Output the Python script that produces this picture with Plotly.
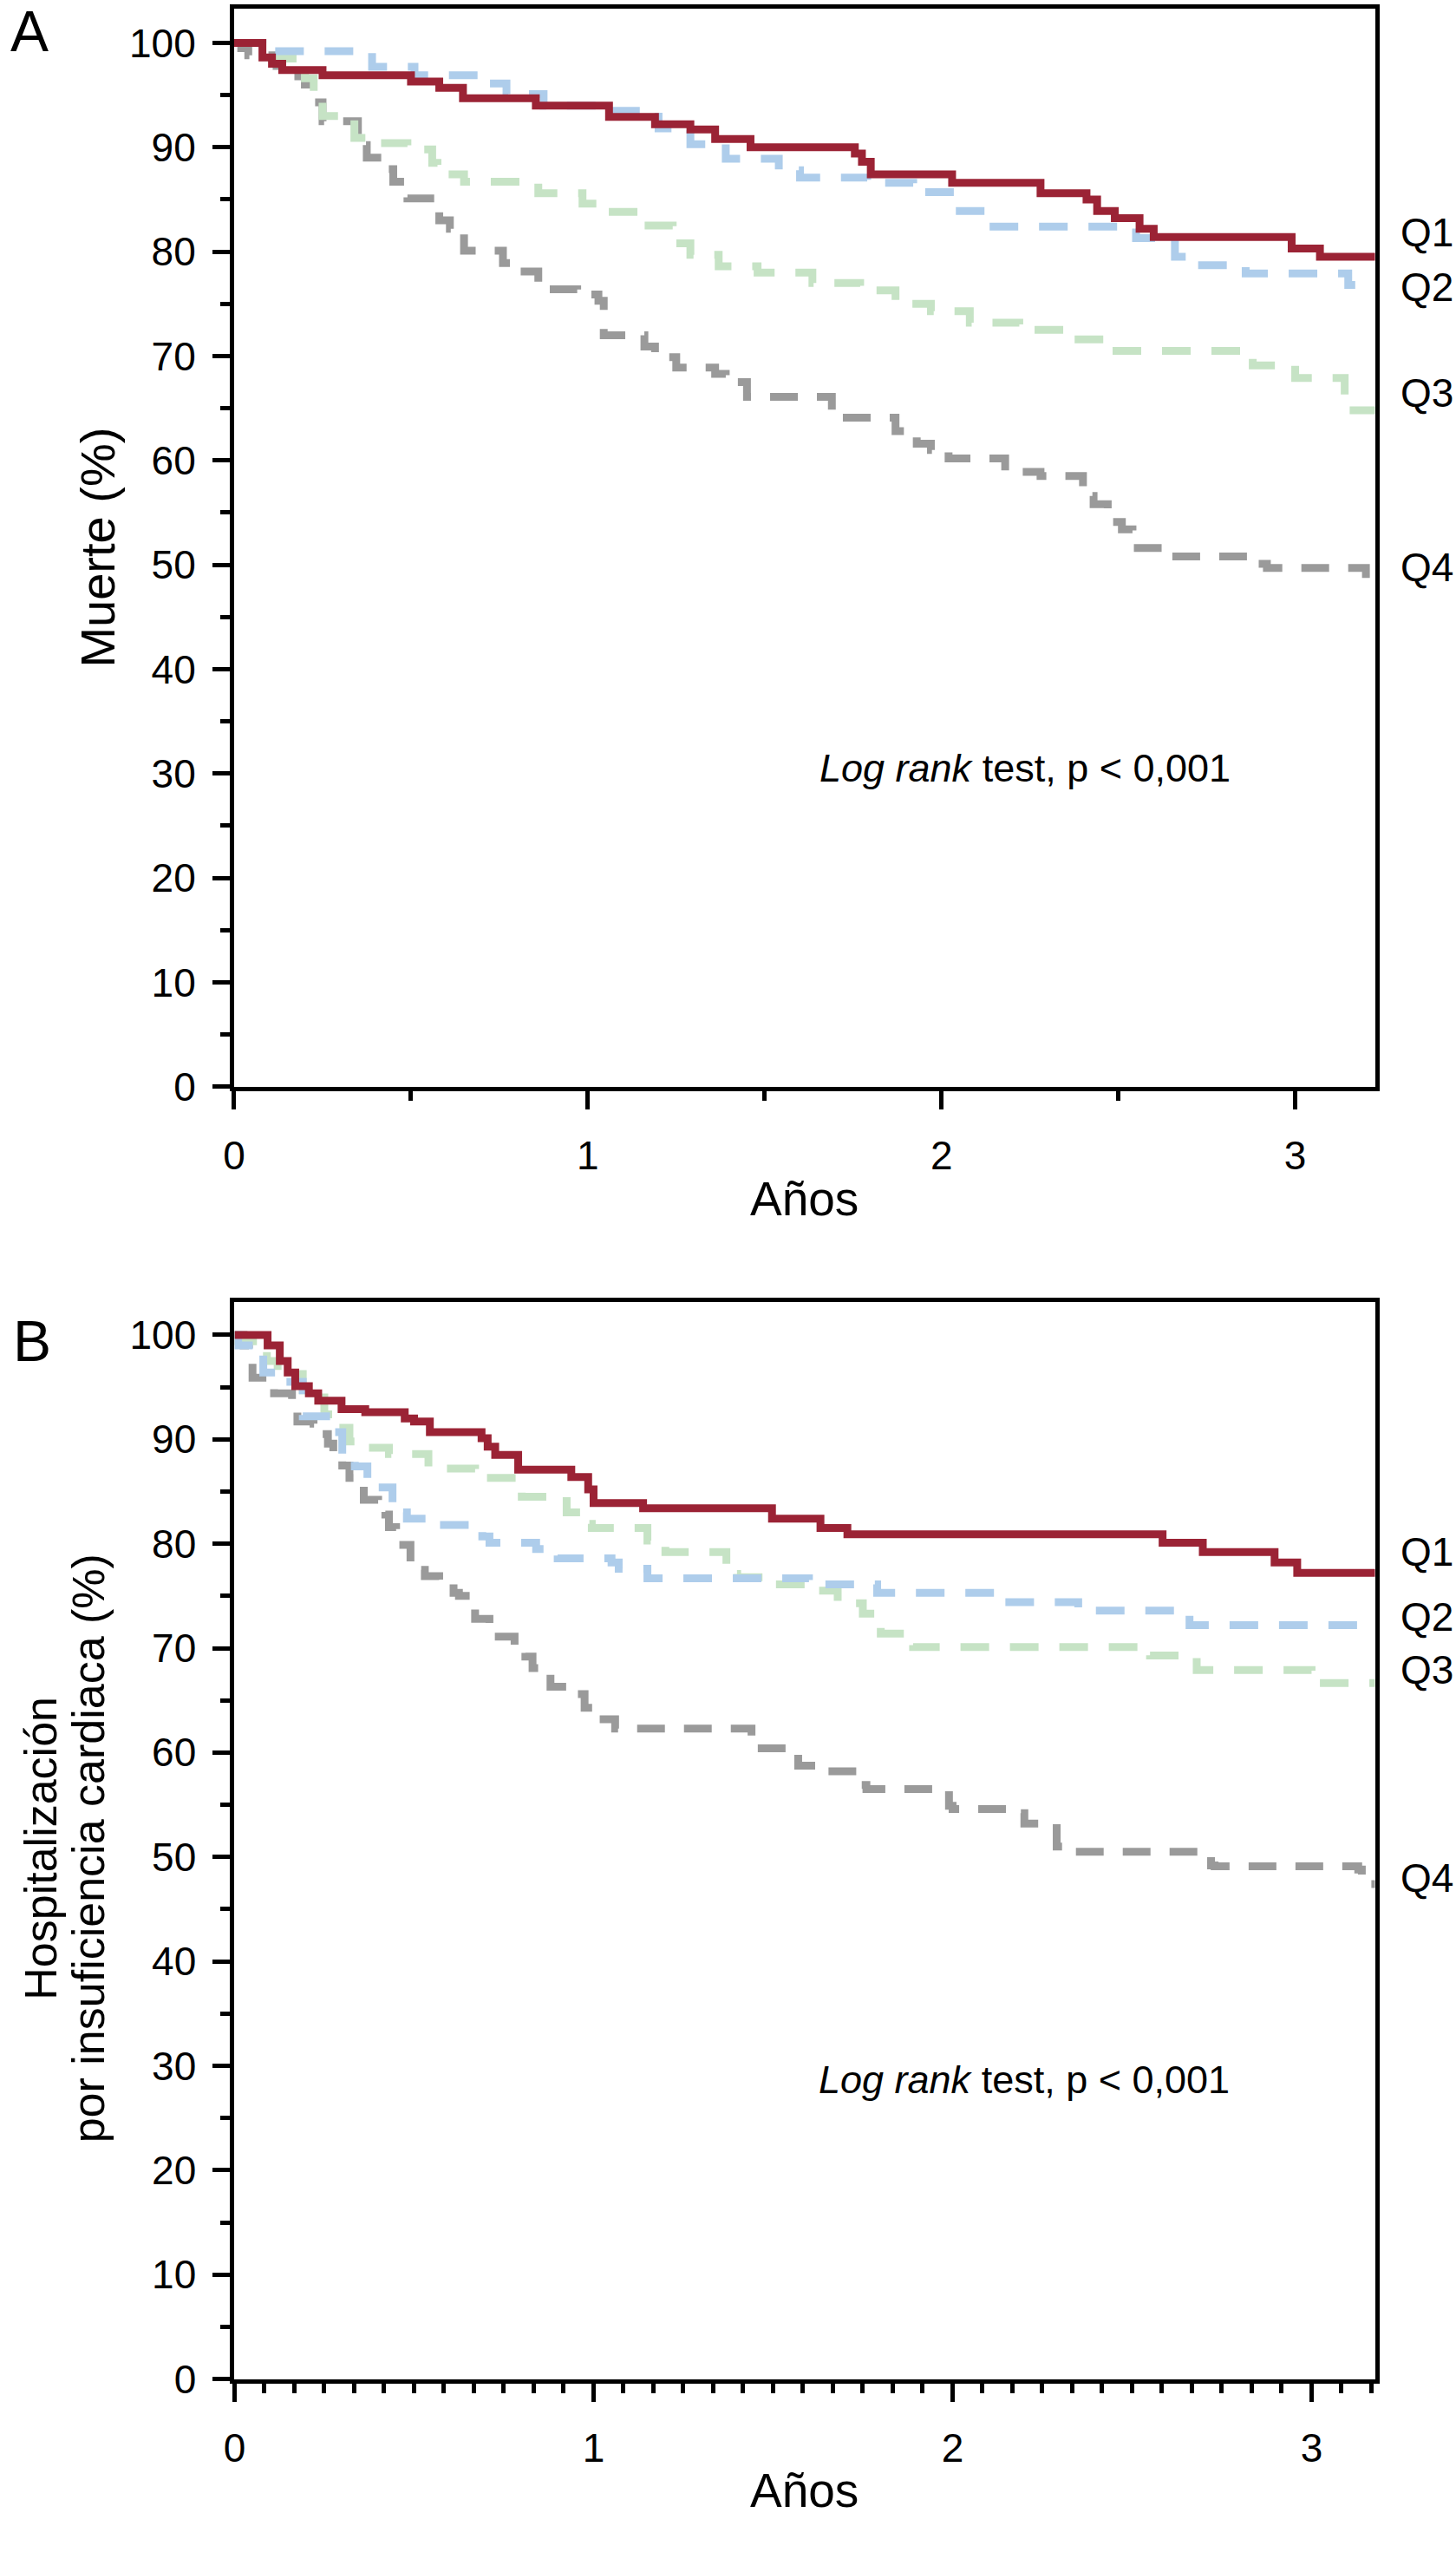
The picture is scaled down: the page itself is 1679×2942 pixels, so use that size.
import plotly.graph_objects as go

# ---- Panel A: Muerte ----
a_q1_t = [0, 0.08, 0.107, 0.136, 0.25, 0.50, 0.58, 0.647, 0.853, 1.06, 1.19, 1.29, 1.36, 1.46,
          1.755, 1.775, 1.80, 2.03, 2.28, 2.41, 2.44, 2.49, 2.56, 2.60, 2.99, 3.07, 3.226]
a_q1_s = [100, 98.6, 98.0, 97.4, 96.9, 96.3, 95.7, 94.7, 94.0, 92.9, 92.2, 91.7, 90.8, 90.0,
          89.4, 88.6, 87.4, 86.6, 85.6, 85.0, 83.9, 83.2, 82.2, 81.4, 80.3, 79.5, 79.5]

a_q2_t = [0, 0.08, 0.39, 0.51, 0.70, 0.77, 0.875, 1.065, 1.20, 1.29, 1.39, 1.54, 1.60, 1.79,
          1.92, 2.04, 2.13, 2.55, 2.66, 2.72, 2.86, 3.15, 3.226]
a_q2_s = [100, 99.2, 97.7, 96.9, 96.1, 95.1, 94.0, 93.5, 91.8, 90.3, 88.9, 87.8, 87.1, 86.6,
          85.7, 83.9, 82.4, 81.3, 79.5, 78.7, 77.9, 76.8, 76.8]

a_q3_t = [0, 0.09, 0.20, 0.225, 0.25, 0.34, 0.36, 0.49, 0.56, 0.575, 0.65, 0.86, 0.985, 1.05,
          1.15, 1.24, 1.29, 1.37, 1.48, 1.635, 1.77, 1.87, 1.97, 2.08, 2.22, 2.35, 2.47, 2.88,
          3.0, 3.14, 3.226]
a_q3_s = [100, 98.5, 96.6, 95.1, 93.0, 90.9, 90.4, 89.8, 88.5, 87.4, 86.7, 85.6, 84.6, 83.8,
          82.5, 80.8, 79.7, 78.6, 78.0, 77.0, 76.3, 75.0, 74.3, 73.2, 72.5, 71.6, 70.5, 69.1,
          67.9, 64.8, 64.8]

a_q4_t = [0, 0.02, 0.04, 0.12, 0.135, 0.20, 0.22, 0.25, 0.35, 0.375, 0.42, 0.45, 0.49, 0.58,
          0.61, 0.65, 0.76, 0.79, 0.86, 0.89, 0.97, 1.03, 1.045, 1.16, 1.19, 1.25, 1.36, 1.39,
          1.45, 1.69, 1.87, 1.93, 1.97, 2.02, 2.18, 2.28, 2.40, 2.43, 2.47, 2.51, 2.54, 2.65,
          2.87, 2.92, 3.20, 3.226]
a_q4_s = [100, 99.5, 98.8, 97.8, 96.8, 96.0, 94.3, 92.5, 90.2, 89.0, 87.9, 86.7, 85.1, 83.0,
          82.2, 80.1, 78.9, 78.1, 77.1, 76.4, 75.9, 75.3, 72.0, 70.9, 69.9, 68.9, 68.3, 67.5,
          66.1, 64.1, 62.8, 61.6, 61.0, 60.2, 58.9, 58.5, 56.6, 55.8, 54.1, 53.4, 51.6, 50.8,
          50.1, 49.7, 48.1, 48.1]

# ---- Panel B: Hospitalización por insuficiencia cardiaca ----
b_q1_t = [0, 0.092, 0.126, 0.148, 0.169, 0.207, 0.233, 0.298, 0.364, 0.474, 0.50, 0.544,
          0.688, 0.705, 0.726, 0.79, 0.938, 0.985, 1.0, 1.138, 1.497, 1.632, 1.707, 2.585,
          2.697, 2.897, 2.96, 3.177]
b_q1_s = [100, 99.0, 97.5, 96.4, 95.1, 94.4, 93.7, 92.9, 92.6, 92.0, 91.7, 90.7,
          90.1, 89.3, 88.5, 87.1, 86.4, 85.2, 83.9, 83.4, 82.4, 81.5, 80.9, 80.1,
          79.2, 78.2, 77.2, 77.2]

b_q2_t = [0, 0.01, 0.058, 0.08, 0.113, 0.19, 0.28, 0.30, 0.335, 0.37, 0.39, 0.44, 0.48,
          0.55, 0.69, 0.71, 0.84, 0.90, 1.05, 1.07, 1.15, 1.60, 1.79, 2.12, 2.35, 2.66, 3.177]
b_q2_s = [100, 99.0, 98.5, 96.4, 95.5, 92.2, 90.7, 88.6, 87.4, 86.3, 85.4, 83.0, 82.4,
          81.8, 80.7, 80.1, 79.5, 78.6, 78.2, 77.6, 76.7, 76.1, 75.3, 74.4, 73.6, 72.2, 72.2]

b_q3_t = [0, 0.005, 0.09, 0.12, 0.19, 0.25, 0.28, 0.32, 0.34, 0.43, 0.54, 0.67, 0.80,
          0.925, 0.97, 0.995, 1.15, 1.20, 1.37, 1.40, 1.50, 1.62, 1.68, 1.75, 1.80, 1.89,
          2.55, 2.68, 3.0, 3.177]
b_q3_s = [100, 99.4, 97.5, 96.25, 94.7, 92.4, 91.1, 89.8, 89.2, 88.6, 87.2, 86.3, 84.5,
          83.0, 81.9, 81.5, 80.3, 79.2, 77.1, 76.8, 76.1, 75.5, 74.3, 73.3, 71.4, 70.1,
          69.3, 67.9, 66.65, 66.65]

b_q4_t = [0, 0.025, 0.04, 0.05, 0.11, 0.16, 0.175, 0.22, 0.24, 0.26, 0.275, 0.30, 0.32,
          0.34, 0.36, 0.40, 0.42, 0.43, 0.45, 0.47, 0.49, 0.50, 0.53, 0.57, 0.61, 0.625,
          0.655, 0.67, 0.71, 0.72, 0.78, 0.81, 0.83, 0.87, 0.88, 0.94, 0.975, 1.0, 1.06,
          1.44, 1.57, 1.62, 1.745, 1.76, 1.99, 2.0, 2.17, 2.2, 2.29, 2.31, 2.72, 2.73,
          3.13, 3.14, 3.177]
b_q4_s = [100, 99.0, 97.4, 95.9, 94.4, 93.3, 91.7, 91.5, 90.5, 89.6, 88.2, 87.5, 86.3,
          85.7, 84.2, 83.9, 82.8, 81.6, 80.4, 79.9, 78.2, 77.5, 76.9, 76.2, 75.3, 75.0,
          73.8, 72.8, 72.4, 71.1, 70.3, 69.2, 68.1, 67.6, 66.3, 65.6, 64.3, 63.2, 62.3,
          60.4, 58.75, 58.2, 56.9, 56.5, 54.9, 54.6, 54.2, 53.2, 51.0, 50.5, 49.2, 49.1,
          48.8, 47.4, 47.4]

groups = ['Q1', 'Q2', 'Q3', 'Q4']
colors = ['#9B2335', '#AECDEB', '#C6E3C5', '#9A9A9A']
dashes = ['solid', '33px,24px', '33px,24px', '32px,22px']

# label positions (y value) next to the right frame
a_label_y = [81.8, 76.6, 66.5, 49.8]
b_label_y = [79.2, 73.0, 67.9, 48.0]

W, H = 1679, 2942
FONT = "Liberation Sans, Arial, Helvetica, sans-serif"


def px(x):
    return x / W


def py(y):
    return 1 - y / H


fig = go.Figure()

panel_a = [(a_q1_t, a_q1_s), (a_q2_t, a_q2_s), (a_q3_t, a_q3_s), (a_q4_t, a_q4_s)]
panel_b = [(b_q1_t, b_q1_s), (b_q2_t, b_q2_s), (b_q3_t, b_q3_s), (b_q4_t, b_q4_s)]

# Q1 drawn last so it stays on top
for i in [3, 2, 1, 0]:
    t, s = panel_a[i]
    fig.add_trace(go.Scatter(x=t, y=s, mode='lines', line_shape='hv', name=groups[i],
                             line=dict(color=colors[i], width=9, dash=dashes[i]),
                             xaxis='x', yaxis='y', showlegend=False))
for i in [3, 2, 1, 0]:
    t, s = panel_b[i]
    fig.add_trace(go.Scatter(x=t, y=s, mode='lines', line_shape='hv', name=groups[i],
                             line=dict(color=colors[i], width=9, dash=dashes[i]),
                             xaxis='x2', yaxis='y2', showlegend=False))

yax = dict(range=[0, 103.3], tickvals=list(range(0, 101, 10)), ticks='outside', ticklen=20,
           tickwidth=4.5, tickcolor='black', showline=True, linewidth=5, linecolor='black',
           mirror=True, showgrid=False, zeroline=False, ticklabelstandoff=10,
           tickfont=dict(family=FONT, size=46, color='black'),
           minor=dict(dtick=5, tick0=0, ticks='outside', ticklen=11, tickwidth=4.5,
                      tickcolor='black', showgrid=False))

xax = dict(tickvals=[0, 1, 2, 3], ticks='outside', ticklen=21, tickwidth=4.5,
           tickcolor='black', showline=True, linewidth=5, linecolor='black', mirror=True,
           showgrid=False, zeroline=False, ticklabelstandoff=14,
           tickfont=dict(family=FONT, size=46, color='black'))

fig.update_layout(
    width=W, height=H,
    margin=dict(l=0, r=0, t=0, b=0),
    paper_bgcolor='white', plot_bgcolor='white',
    font=dict(family=FONT, color='black'),
    xaxis=dict(xax, domain=[px(259), px(1585)], range=[0, 3.226], anchor='y',
               minor=dict(dtick=0.5, tick0=0, ticks='outside', ticklen=11, tickwidth=4.5,
                          tickcolor='black', showgrid=False)),
    yaxis=dict(yax, domain=[py(1264), py(9.8)], anchor='x'),
    xaxis2=dict(xax, domain=[px(259.5), px(1585)], range=[0, 3.177], anchor='y2',
                minor=dict(dtick=1 / 12, tick0=0, ticks='outside', ticklen=11, tickwidth=4.5,
                           tickcolor='black', showgrid=False)),
    yaxis2=dict(yax, range=[0, 103.16], domain=[py(2767), py(1514.3)], anchor='x2'),
)

ann = []
# panel letters
ann.append(dict(text='A', x=px(21), y=py(36), xref='paper', yref='paper', showarrow=False,
                font=dict(size=66), xanchor='center', yanchor='middle'))
ann.append(dict(text='B', x=px(24), y=py(1560), xref='paper', yref='paper', showarrow=False,
                font=dict(size=66), xanchor='center', yanchor='middle'))
# axis titles
ann.append(dict(text='Muerte (%)', x=px(100), y=py(637), xref='paper', yref='paper',
                showarrow=False, textangle=-90, font=dict(size=56),
                xanchor='center', yanchor='middle'))
ann.append(dict(text='Hospitalización', x=px(34), y=py(2150), xref='paper', yref='paper',
                showarrow=False, textangle=-90, font=dict(size=52),
                xanchor='center', yanchor='middle'))
ann.append(dict(text='por insuficiencia cardiaca (%)', x=px(90), y=py(2150), xref='paper',
                yref='paper', showarrow=False, textangle=-90, font=dict(size=52),
                xanchor='center', yanchor='middle'))
ann.append(dict(text='Años', x=px(922), y=py(1394), xref='paper', yref='paper',
                showarrow=False, font=dict(size=55), xanchor='center', yanchor='middle'))
ann.append(dict(text='Años', x=px(922), y=py(2897), xref='paper', yref='paper',
                showarrow=False, font=dict(size=55), xanchor='center', yanchor='middle'))
# log rank notes
ann.append(dict(text='<i>Log rank</i> test, p &lt; 0,001', x=2.236, y=30.5, xref='x', yref='y',
                showarrow=False, font=dict(size=45), xanchor='center', yanchor='middle'))
ann.append(dict(text='<i>Log rank</i> test, p &lt; 0,001', x=2.20, y=28.7, xref='x2', yref='y2',
                showarrow=False, font=dict(size=45), xanchor='center', yanchor='middle'))
# group labels
for g, ya in zip(groups, a_label_y):
    ann.append(dict(text=g, x=px(1612), y=ya, xref='paper', yref='y', showarrow=False,
                    font=dict(size=46), xanchor='left', yanchor='middle'))
for g, yb in zip(groups, b_label_y):
    ann.append(dict(text=g, x=px(1612), y=yb, xref='paper', yref='y2', showarrow=False,
                    font=dict(size=46), xanchor='left', yanchor='middle'))

fig.update_layout(annotations=ann)

fig.write_html("out.html", config={'displayModeBar': False},
               post_script="document.body.style.margin='0';")
